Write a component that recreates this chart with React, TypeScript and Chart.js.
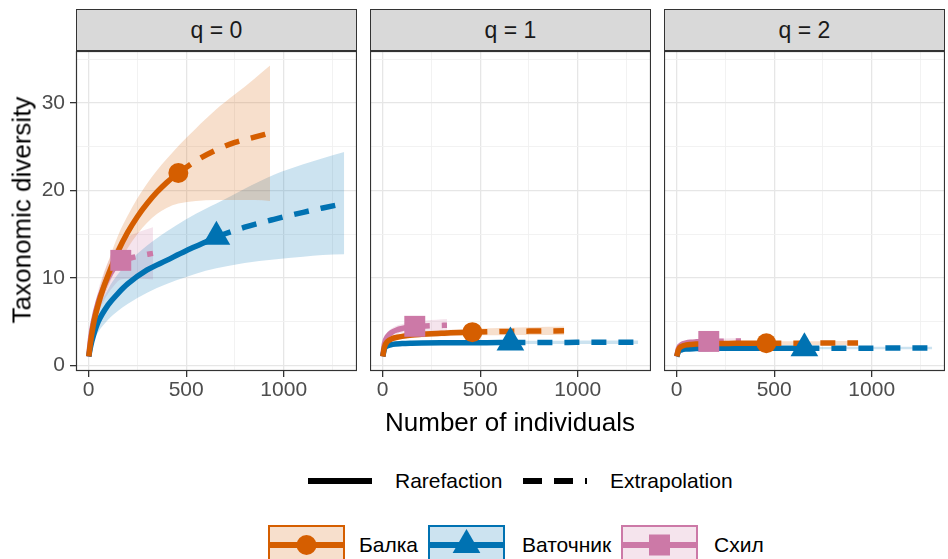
import React, { useEffect, useRef } from "react";
import { Chart, registerables } from "chart.js";
Chart.register(...registerables);

// ---------- data ----------
const Q_LABELS = ["q = 0", "q = 1", "q = 2"];
const SITES = ["Балка", "Ваточник", "Схил"];
const COLORS = ["#D55E00", "#0072B2", "#CC79A7"];
const FILLS = ["rgba(213,94,0,0.2)", "rgba(0,114,178,0.2)", "rgba(204,121,167,0.2)"];
const METHODS = ["Rarefaction", "Extrapolation"];
const X_MAJOR = [0, 500, 1000];
const X_MINOR = [250, 750, 1250];
const Y_MAJOR = [0, 10, 20, 30];
const Y_MINOR = [5, 15, 25, 35];

// sample sizes (observed)
const SAMPLE_N = [460, 655, 165];

const BALKA_RARE_X = [1, 10, 25, 50, 75, 100, 150, 200, 250, 300, 350, 400, 460];
const BALKA_EXT_X = [460, 550, 650, 750, 850, 930];
const VAT_RARE_X = [1, 10, 25, 50, 100, 150, 200, 300, 400, 500, 600, 655];
const VAT_EXT_X = [655, 800, 950, 1100, 1200, 1310];
const SKHIL_RARE_X = [1, 10, 25, 50, 75, 100, 130, 165];
const SKHIL_EXT_X = [165, 220, 275, 330];

// q = 0
const BALKA_Q0_RARE = [1, 2.6, 4.7, 7.0, 8.8, 10.3, 13.0, 15.2, 17.0, 18.5, 19.8, 20.9, 22.0];
const BALKA_Q0_EXT = [22.0, 23.4, 24.6, 25.5, 26.1, 26.6];
const BALKA_Q0_LO = [1, 2.2, 3.9, 6.0, 7.6, 9.0, 11.4, 13.4, 15.0, 16.3, 17.3, 18.0, 18.5, 18.8, 18.9, 18.9, 18.9, 18.8];
const BALKA_Q0_HI = [1, 3.0, 5.5, 8.2, 10.2, 11.8, 14.8, 17.1, 19.1, 20.8, 22.3, 23.6, 25.1, 27.1, 29.2, 31.0, 32.8, 34.3];
const VAT_Q0_RARE = [1, 2.1, 3.4, 5.0, 6.9, 8.2, 9.3, 10.9, 12.0, 13.1, 14.1, 14.7];
const VAT_Q0_EXT = [14.7, 15.8, 16.7, 17.5, 18.0, 18.5];
const VAT_Q0_LO = [1, 1.7, 2.7, 3.8, 5.2, 6.2, 7.0, 8.3, 9.3, 10.1, 10.8, 11.1, 11.7, 12.1, 12.4, 12.6, 12.7];
const VAT_Q0_HI = [1, 2.6, 4.2, 6.3, 8.7, 10.4, 11.7, 13.7, 15.3, 16.7, 17.9, 18.5, 20.2, 21.8, 23.0, 23.7, 24.4];
const SKHIL_Q0_RARE = [1, 3.0, 5.0, 7.3, 8.8, 10.0, 11.1, 12.0];
const SKHIL_Q0_EXT = [12.0, 12.3, 12.6, 12.8];
const SKHIL_Q0_LO = [1, 2.5, 4.1, 6.0, 7.2, 8.2, 9.1, 9.8, 9.9, 9.9, 9.8];
const SKHIL_Q0_HI = [1, 3.5, 5.9, 8.6, 10.4, 11.8, 13.1, 14.2, 14.9, 15.4, 15.8];

// q = 1
const BALKA_Q1_RARE = [1, 2.1, 2.7, 3.05, 3.2, 3.3, 3.45, 3.53, 3.6, 3.65, 3.7, 3.74, 3.78];
const BALKA_Q1_EXT = [3.78, 3.83, 3.87, 3.9, 3.92, 3.93];
const BALKA_Q1_LO = [1, 1.9, 2.4, 2.75, 2.9, 3.0, 3.12, 3.2, 3.25, 3.3, 3.34, 3.37, 3.4, 3.42, 3.44, 3.45, 3.45, 3.45];
const BALKA_Q1_HI = [1, 2.3, 3.0, 3.35, 3.5, 3.6, 3.78, 3.86, 3.95, 4.0, 4.06, 4.11, 4.16, 4.24, 4.3, 4.35, 4.39, 4.42];
const VAT_Q1_RARE = [1, 1.9, 2.2, 2.38, 2.48, 2.52, 2.54, 2.56, 2.57, 2.58, 2.59, 2.6];
const VAT_Q1_EXT = [2.6, 2.61, 2.61, 2.62, 2.62, 2.62];
const VAT_Q1_LO = [1, 1.8, 2.05, 2.2, 2.3, 2.34, 2.36, 2.38, 2.39, 2.4, 2.41, 2.41, 2.42, 2.42, 2.42, 2.42, 2.42];
const VAT_Q1_HI = [1, 2.0, 2.35, 2.56, 2.66, 2.7, 2.72, 2.74, 2.75, 2.76, 2.77, 2.79, 2.8, 2.8, 2.82, 2.82, 2.82];
const SKHIL_Q1_RARE = [1, 2.5, 3.3, 3.8, 4.05, 4.2, 4.35, 4.45];
const SKHIL_Q1_EXT = [4.45, 4.5, 4.54, 4.57];
const SKHIL_Q1_LO = [1, 2.2, 2.9, 3.35, 3.55, 3.7, 3.8, 3.88, 3.88, 3.87, 3.86];
const SKHIL_Q1_HI = [1, 2.8, 3.7, 4.25, 4.55, 4.7, 4.88, 5.0, 5.12, 5.2, 5.28];

// q = 2
const BALKA_Q2_RARE = [1, 1.8, 2.15, 2.32, 2.38, 2.42, 2.46, 2.48, 2.49, 2.5, 2.5, 2.51, 2.51];
const BALKA_Q2_EXT = [2.51, 2.52, 2.52, 2.53, 2.53, 2.53];
const BALKA_Q2_LO = [1, 1.65, 1.98, 2.15, 2.2, 2.24, 2.27, 2.29, 2.3, 2.31, 2.31, 2.32, 2.32, 2.32, 2.31, 2.31, 2.3, 2.3];
const BALKA_Q2_HI = [1, 1.95, 2.32, 2.5, 2.56, 2.6, 2.65, 2.67, 2.69, 2.7, 2.7, 2.71, 2.72, 2.73, 2.74, 2.75, 2.76, 2.77];
const VAT_Q2_RARE = [1, 1.55, 1.75, 1.85, 1.9, 1.92, 1.93, 1.94, 1.94, 1.95, 1.95, 1.95];
const VAT_Q2_EXT = [1.95, 1.95, 1.95, 1.96, 1.96, 1.96];
const VAT_Q2_LO = [1, 1.45, 1.63, 1.72, 1.77, 1.79, 1.8, 1.81, 1.81, 1.82, 1.82, 1.82, 1.82, 1.82, 1.82, 1.82, 1.82];
const VAT_Q2_HI = [1, 1.65, 1.87, 1.98, 2.03, 2.05, 2.06, 2.07, 2.07, 2.08, 2.08, 2.09, 2.09, 2.1, 2.1, 2.1, 2.1];
const SKHIL_Q2_RARE = [1, 1.95, 2.35, 2.55, 2.63, 2.67, 2.7, 2.72];
const SKHIL_Q2_EXT = [2.72, 2.74, 2.75, 2.76];
const SKHIL_Q2_LO = [1, 1.75, 2.1, 2.28, 2.35, 2.38, 2.4, 2.42, 2.42, 2.41, 2.4];
const SKHIL_Q2_HI = [1, 2.15, 2.6, 2.82, 2.92, 2.97, 3.0, 3.03, 3.06, 3.09, 3.12];

// ---------- assembly ----------
const RARE_X = [BALKA_RARE_X, VAT_RARE_X, SKHIL_RARE_X];
const EXT_X = [BALKA_EXT_X, VAT_EXT_X, SKHIL_EXT_X];
const CI_X = RARE_X.map((r, i) => r.concat(EXT_X[i].slice(1)));
const CURVES = [
  [
    { rare: BALKA_Q0_RARE, ext: BALKA_Q0_EXT, lo: BALKA_Q0_LO, hi: BALKA_Q0_HI },
    { rare: VAT_Q0_RARE, ext: VAT_Q0_EXT, lo: VAT_Q0_LO, hi: VAT_Q0_HI },
    { rare: SKHIL_Q0_RARE, ext: SKHIL_Q0_EXT, lo: SKHIL_Q0_LO, hi: SKHIL_Q0_HI },
  ],
  [
    { rare: BALKA_Q1_RARE, ext: BALKA_Q1_EXT, lo: BALKA_Q1_LO, hi: BALKA_Q1_HI },
    { rare: VAT_Q1_RARE, ext: VAT_Q1_EXT, lo: VAT_Q1_LO, hi: VAT_Q1_HI },
    { rare: SKHIL_Q1_RARE, ext: SKHIL_Q1_EXT, lo: SKHIL_Q1_LO, hi: SKHIL_Q1_HI },
  ],
  [
    { rare: BALKA_Q2_RARE, ext: BALKA_Q2_EXT, lo: BALKA_Q2_LO, hi: BALKA_Q2_HI },
    { rare: VAT_Q2_RARE, ext: VAT_Q2_EXT, lo: VAT_Q2_LO, hi: VAT_Q2_HI },
    { rare: SKHIL_Q2_RARE, ext: SKHIL_Q2_EXT, lo: SKHIL_Q2_LO, hi: SKHIL_Q2_HI },
  ],
];

const zip = (xs: number[], ys: number[]) => xs.map((x, i) => ({ x, y: ys[i] }));
const allX = CI_X.flat();
const allY = CURVES.flat().flatMap((c) => [...c.lo, ...c.hi, ...c.rare, ...c.ext]);
const expand = (a: number[]) => {
  const lo = Math.min(...a), hi = Math.max(...a), d = hi - lo;
  return [lo - 0.05 * d, hi + 0.05 * d];
};
const [X_MIN, X_MAX] = expand(allX);
const [Y_MIN, Y_MAX] = expand(allY);

// ---------- layout ----------
const FONT = "'Liberation Sans', Arial, Helvetica, sans-serif";
const PANEL_LEFT = [76, 370, 664];
const PANEL_W = 281;
const PANEL_TOP = 51;
const PANEL_H = 320;
const STRIP_TOP = 9;
const Y_AXIS_W = 56;
const X_AXIS_H = 40;
const POINT_STYLES = ["circle", "triangle", "rect"];
const POINT_RADII = [10, 16, 14.8];

const borderPlugin = {
  id: "panelBorder",
  afterDraw(chart: any) {
    const { ctx, chartArea: a } = chart;
    ctx.save();
    ctx.strokeStyle = "#333333";
    ctx.lineWidth = 1.2;
    ctx.strokeRect(a.left + 0.5, a.top + 0.5, a.right - a.left - 1, a.bottom - a.top - 1);
    ctx.restore();
  },
};

function Panel({ q }: { q: number }) {
  const ref = useRef<HTMLCanvasElement>(null);
  const showY = q === 0;
  const L = showY ? Y_AXIS_W : 0;
  const w = PANEL_W + L;
  const h = PANEL_H + X_AXIS_H;
  useEffect(() => {
    const points: any[] = [];
    const lines: any[] = [];
    const ribbons: any[] = [];
    for (let s = 0; s < 3; s++) {
      const c = CURVES[q][s];
      points.push({
        data: [{ x: SAMPLE_N[s], y: c.rare[c.rare.length - 1] }],
        showLine: false,
        pointStyle: POINT_STYLES[s],
        pointRadius: POINT_RADII[s],
        backgroundColor: COLORS[s],
        borderWidth: 0,
      });
      lines.push({
        data: zip(RARE_X[s], c.rare),
        borderColor: COLORS[s],
        borderWidth: 5.5,
        pointRadius: 0,
        cubicInterpolationMode: "monotone",
        borderCapStyle: "butt",
        fill: false,
      });
      lines.push({
        data: zip(EXT_X[s], c.ext),
        borderColor: COLORS[s],
        borderWidth: 5.5,
        borderDash: [15, 12],
        pointRadius: 0,
        cubicInterpolationMode: "monotone",
        borderCapStyle: "butt",
        fill: false,
      });
      ribbons.push({
        data: zip(CI_X[s], c.hi),
        borderWidth: 0,
        borderColor: "rgba(0,0,0,0)",
        pointRadius: 0,
        cubicInterpolationMode: "monotone",
        backgroundColor: FILLS[s],
        fill: "+1",
      });
      ribbons.push({
        data: zip(CI_X[s], c.lo),
        borderWidth: 0,
        borderColor: "rgba(0,0,0,0)",
        pointRadius: 0,
        cubicInterpolationMode: "monotone",
        fill: false,
      });
    }
    const isMajor = (arr: number[], v: number) => arr.includes(v);
    const chart = new Chart(ref.current as HTMLCanvasElement, {
      type: "line",
      data: { datasets: [...points, ...lines, ...ribbons] },
      plugins: [borderPlugin],
      options: {
        animation: false,
        responsive: false,
        maintainAspectRatio: false,
        devicePixelRatio: 1,
        layout: { padding: 0, autoPadding: false },
        plugins: { legend: { display: false }, tooltip: { enabled: false } },
        scales: {
          x: {
            type: "linear",
            min: X_MIN,
            max: X_MAX,
            afterBuildTicks: (sc: any) => {
              sc.ticks = [...X_MAJOR, ...X_MINOR].sort((a, b) => a - b).map((v) => ({ value: v }));
            },
            afterFit: (sc: any) => {
              sc.height = X_AXIS_H;
              sc.paddingLeft = 0;
              sc.paddingRight = 0;
            },
            border: { display: false },
            grid: {
              color: (c: any) => (isMajor(X_MAJOR, c.tick?.value) ? "#E6E6E6" : "#F1F1F1"),
              lineWidth: (c: any) => (isMajor(X_MAJOR, c.tick?.value) ? 1.3 : 0.9),
              tickColor: (c: any) => (isMajor(X_MAJOR, c.tick?.value) ? "#333333" : "rgba(0,0,0,0)"),
              tickLength: 6,
              tickWidth: 1.3,
            },
            ticks: {
              autoSkip: false,
              maxRotation: 0,
              padding: 1,
              color: "#4D4D4D",
              font: { family: FONT, size: 21 },
              callback: (v: any) => (isMajor(X_MAJOR, v) ? String(v) : ""),
            },
          },
          y: {
            type: "linear",
            min: Y_MIN,
            max: Y_MAX,
            afterBuildTicks: (sc: any) => {
              sc.ticks = [...Y_MAJOR, ...Y_MINOR].sort((a, b) => a - b).map((v) => ({ value: v }));
            },
            afterFit: (sc: any) => {
              sc.width = L;
              sc.paddingTop = 0;
              sc.paddingBottom = 0;
            },
            border: { display: false },
            grid: {
              color: (c: any) => (isMajor(Y_MAJOR, c.tick?.value) ? "#E6E6E6" : "#F1F1F1"),
              lineWidth: (c: any) => (isMajor(Y_MAJOR, c.tick?.value) ? 1.3 : 0.9),
              tickColor: (c: any) => (showY && isMajor(Y_MAJOR, c.tick?.value) ? "#333333" : "rgba(0,0,0,0)"),
              drawTicks: showY,
              tickLength: 6,
              tickWidth: 1.3,
            },
            ticks: {
              display: showY,
              autoSkip: false,
              padding: 5,
              color: "#4D4D4D",
              font: { family: FONT, size: 21 },
              callback: (v: any) => (isMajor(Y_MAJOR, v) ? String(v) : ""),
            },
          },
        },
      } as any,
    });
    return () => chart.destroy();
  }, []);
  return (
    <canvas
      ref={ref}
      width={w}
      height={h}
      style={{ position: "absolute", left: PANEL_LEFT[q] - L, top: PANEL_TOP, width: w, height: h }}
    />
  );
}

function LineKey({ dashed }: { dashed: boolean }) {
  return (
    <svg width={64} height={20} style={{ display: "block" }}>
      <line x1={0} y1={10} x2={64} y2={10} stroke="#000" strokeWidth={6} strokeDasharray={dashed ? "19 12" : undefined} />
    </svg>
  );
}

function SiteKey({ s }: { s: number }) {
  const W = 77, H = 40, cx = W / 2, cy = H / 2;
  let marker: any;
  if (s === 0) marker = <circle cx={cx} cy={cy} r={10} fill={COLORS[s]} />;
  else if (s === 1) {
    const r = 16;
    const pts = [
      [cx, cy - r],
      [cx + r * Math.sin((2 * Math.PI) / 3), cy + r / 2],
      [cx - r * Math.sin((2 * Math.PI) / 3), cy + r / 2],
    ];
    marker = <polygon points={pts.map((p) => p.join(",")).join(" ")} fill={COLORS[s]} />;
  } else marker = <rect x={cx - 10.5} y={cy - 10.5} width={21} height={21} fill={COLORS[s]} />;
  return (
    <svg width={W} height={H} style={{ display: "block" }}>
      <rect x={1} y={1} width={W - 2} height={H - 2} fill={FILLS[s]} stroke={COLORS[s]} strokeWidth={2} />
      <line x1={2} y1={cy} x2={W - 2} y2={cy} stroke={COLORS[s]} strokeWidth={6} />
      {marker}
    </svg>
  );
}

const abs = (o: any) => ({ position: "absolute" as const, ...o });

export default function App() {
  const textBase = { fontFamily: FONT, whiteSpace: "nowrap" as const };
  const SITE_KEY_LEFT = [268, 428, 621];
  const SITE_TEXT_LEFT = [359, 522, 714];
  return (
    <div style={abs({ left: 0, top: 0, width: 948, height: 559, background: "#fff", overflow: "hidden" })}>
      {Q_LABELS.map((lab, i) => (
        <div
          key={lab}
          style={abs({
            left: PANEL_LEFT[i],
            top: STRIP_TOP,
            width: PANEL_W,
            height: PANEL_TOP - STRIP_TOP,
            boxSizing: "border-box",
            background: "#D9D9D9",
            border: "1.2px solid #333",
            ...textBase,
            fontSize: 23,
            color: "#1A1A1A",
            display: "flex",
            alignItems: "center",
            justifyContent: "center",
          })}
        >
          {lab}
        </div>
      ))}
      {[0, 1, 2].map((q) => (
        <Panel key={q} q={q} />
      ))}
      <div
        style={abs({
          left: 22,
          top: 210,
          transform: "translate(-50%, -50%) rotate(-90deg)",
          ...textBase,
          fontSize: 26,
          color: "#000",
        })}
      >
        Taxonomic diversity
      </div>
      <div style={abs({ left: 510, top: 422, transform: "translate(-50%, -50%)", ...textBase, fontSize: 26, color: "#000" })}>
        Number of individuals
      </div>
      {/* legend row 1 */}
      <div style={abs({ left: 308, top: 471 })}>
        <LineKey dashed={false} />
      </div>
      <div style={abs({ left: 395, top: 481, transform: "translateY(-50%)", ...textBase, fontSize: 21 })}>{METHODS[0]}</div>
      <div style={abs({ left: 523, top: 471 })}>
        <LineKey dashed={true} />
      </div>
      <div style={abs({ left: 610, top: 481, transform: "translateY(-50%)", ...textBase, fontSize: 21 })}>{METHODS[1]}</div>
      {/* legend row 2 */}
      {SITES.map((name, s) => (
        <React.Fragment key={name}>
          <div style={abs({ left: SITE_KEY_LEFT[s], top: 525 })}>
            <SiteKey s={s} />
          </div>
          <div style={abs({ left: SITE_TEXT_LEFT[s], top: 545, transform: "translateY(-50%)", ...textBase, fontSize: 21 })}>
            {name}
          </div>
        </React.Fragment>
      ))}
    </div>
  );
}
